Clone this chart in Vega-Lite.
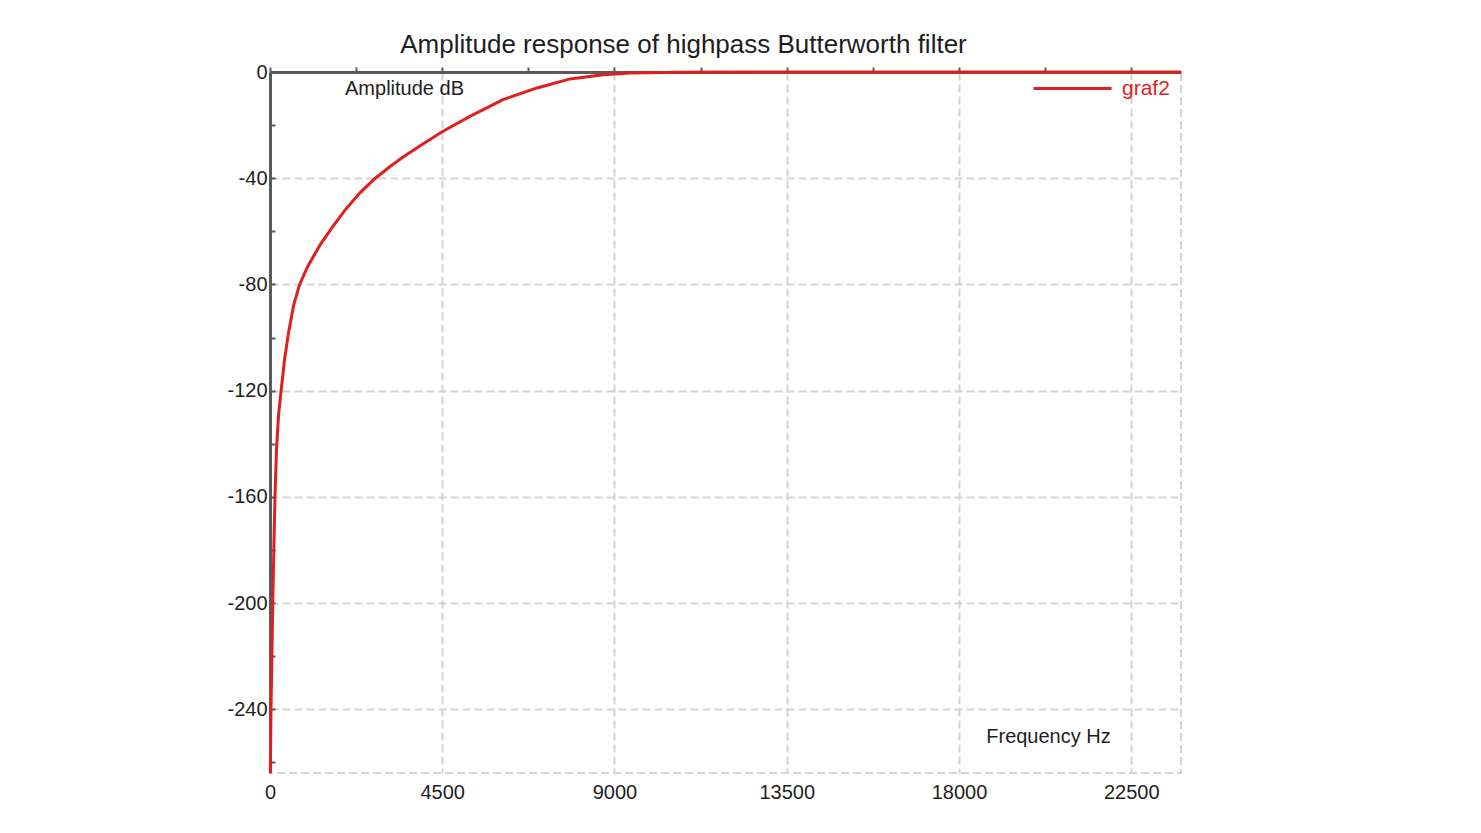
{
  "$schema": "https://vega.github.io/schema/vega-lite/v6.json",
  "width": 911,
  "height": 701,
  "autosize": {"type": "none"},
  "padding": {"left": 270, "top": 72, "right": 300, "bottom": 60},
  "background": "white",
  "title": {
    "text": "Amplitude response of highpass Butterworth filter",
    "anchor": "middle",
    "dx": -42,
    "dy": 16,
    "offset": 6,
    "fontSize": 26,
    "font": "Liberation Sans",
    "fontWeight": "normal",
    "color": "#1e1e1e"
  },
  "data": {
    "values": [
      {"freq": 8, "db": -264},
      {"freq": 26, "db": -239.8},
      {"freq": 52, "db": -217.5},
      {"freq": 73, "db": -199.5},
      {"freq": 105, "db": -176.1},
      {"freq": 131, "db": -159.6},
      {"freq": 170, "db": -142.2},
      {"freq": 223, "db": -129.1},
      {"freq": 293, "db": -119.6},
      {"freq": 380, "db": -108.3},
      {"freq": 484, "db": -98.2},
      {"freq": 615, "db": -88.0},
      {"freq": 772, "db": -80.1},
      {"freq": 982, "db": -73.3},
      {"freq": 1296, "db": -65.4},
      {"freq": 1610, "db": -58.8},
      {"freq": 1950, "db": -52.2},
      {"freq": 2343, "db": -45.6},
      {"freq": 2736, "db": -40.2},
      {"freq": 3128, "db": -35.7},
      {"freq": 3469, "db": -32.1},
      {"freq": 3914, "db": -27.9},
      {"freq": 4508, "db": -22.4},
      {"freq": 5223, "db": -16.7},
      {"freq": 6087, "db": -10.4},
      {"freq": 6977, "db": -6.0},
      {"freq": 7841, "db": -2.6},
      {"freq": 8705, "db": -1.0},
      {"freq": 9412, "db": -0.4},
      {"freq": 10720, "db": -0.1},
      {"freq": 12560, "db": 0},
      {"freq": 16000, "db": 0},
      {"freq": 20000, "db": 0},
      {"freq": 23800, "db": 0}
    ]
  },
  "layer": [
    {
      "mark": {"type": "line", "strokeOpacity": 0},
      "encoding": {
        "x": {
          "field": "freq",
          "type": "quantitative",
          "scale": {"domain": [0, 23800], "nice": false, "zero": false},
          "axis": {
            "orient": "top",
            "values": [0, 2250, 4500, 6750, 9000, 11250, 13500, 15750, 18000, 20250, 22500],
            "labels": false,
            "grid": false,
            "domain": true,
            "domainColor": "#5a5a5a",
            "domainWidth": 3,
            "ticks": true,
            "tickSize": 5,
            "tickWidth": 2,
            "tickColor": "#5a5a5a",
            "title": null
          }
        },
        "y": {
          "field": "db",
          "type": "quantitative",
          "scale": {"domain": [-264, 0], "nice": false, "zero": false},
          "axis": {
            "orient": "left",
            "values": [-260, -220, -180, -140, -100, -60, -20],
            "labels": false,
            "grid": false,
            "domain": false,
            "ticks": true,
            "tickSize": -5,
            "tickWidth": 2,
            "tickColor": "#5a5a5a",
            "title": null
          }
        }
      }
    },
    {
      "mark": {"type": "line", "strokeWidth": 3},
      "encoding": {
        "x": {
          "field": "freq",
          "type": "quantitative",
          "scale": {"domain": [0, 23800], "nice": false, "zero": false},
          "axis": {
            "orient": "bottom",
            "values": [0, 4500, 9000, 13500, 18000, 22500],
            "grid": true,
            "domain": false,
            "ticks": false,
            "labelFlush": false,
            "labelPadding": 9,
            "labelFontSize": 20,
            "labelFont": "Liberation Sans",
            "labelColor": "#1e1e1e",
            "labelExpr": "'' + datum.value",
            "title": "Frequency Hz",
            "titleX": 778,
            "titleY": -37,
            "titleAlign": "center",
            "titleBaseline": "middle",
            "titleFontSize": 20,
            "titleFont": "Liberation Sans",
            "titleFontWeight": "normal",
            "titleColor": "#1e1e1e"
          }
        },
        "y": {
          "field": "db",
          "type": "quantitative",
          "scale": {"domain": [-264, 0], "nice": false, "zero": false},
          "axis": {
            "orient": "left",
            "values": [-240, -200, -160, -120, -80, -40, 0],
            "grid": true,
            "domain": true,
            "domainColor": "#5a5a5a",
            "domainWidth": 3,
            "ticks": true,
            "tickSize": -5,
            "tickWidth": 2,
            "tickColor": "#5a5a5a",
            "labelFlush": false,
            "labelPadding": 8,
            "labelFontSize": 20,
            "labelFont": "Liberation Sans",
            "labelColor": "#1e1e1e",
            "labelExpr": "'' + datum.value",
            "title": "Amplitude dB",
            "titleAngle": 0,
            "titleX": 134,
            "titleY": 16,
            "titleAlign": "center",
            "titleBaseline": "middle",
            "titleFontSize": 20,
            "titleFont": "Liberation Sans",
            "titleFontWeight": "normal",
            "titleColor": "#1e1e1e"
          }
        },
        "color": {
          "datum": "graf2",
          "scale": {"range": ["#e01e1e"]},
          "legend": {
            "orient": "none",
            "legendX": 762,
            "legendY": -24,
            "title": null,
            "symbolType": "stroke",
            "symbolSize": 6084,
            "symbolStrokeWidth": 3,
            "labelColor": "#e01e1e",
            "labelFontSize": 21,
            "labelFont": "Liberation Sans",
            "labelOffset": 9,
            "padding": 0
          }
        }
      }
    }
  ],
  "resolve": {"axis": {"x": "independent", "y": "independent"}},
  "config": {
    "view": {"stroke": "#d4d4d4", "strokeDash": [8, 4], "strokeWidth": 2},
    "axis": {"gridColor": "#d4d4d4", "gridDash": [8, 4], "gridWidth": 2, "gridOpacity": 1}
  }
}
